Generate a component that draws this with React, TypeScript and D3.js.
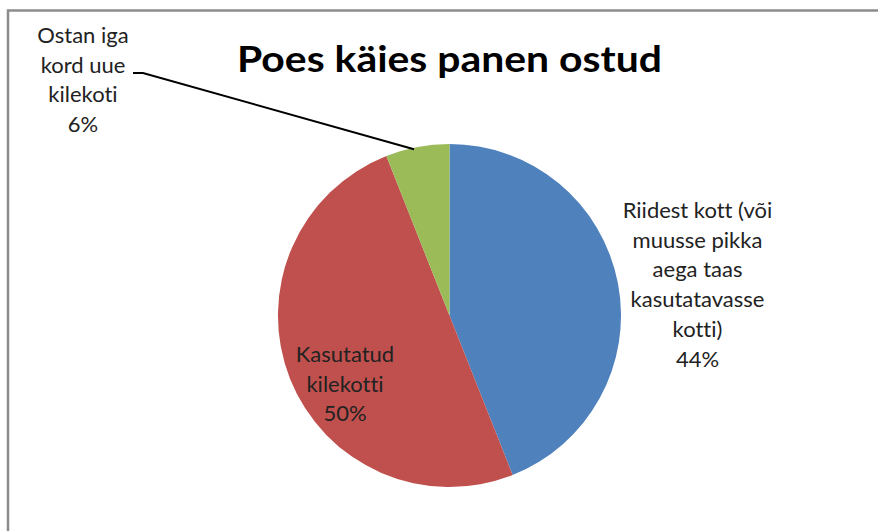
import React from "react";
import * as d3 from "d3";

const categories = [
  "Riidest kott (või muusse pikka aega taas kasutatavasse kotti)",
  "Kasutatud kilekotti",
  "Ostan iga kord uue kilekoti",
];
const values = [44, 50, 6];
const percentLabels = ["44%", "50%", "6%"];
const labelLines = [
  ["Riidest kott (või", "muusse pikka", "aega taas", "kasutatavasse", "kotti)"],
  ["Kasutatud", "kilekotti"],
  ["Ostan iga", "kord uue", "kilekoti"],
];
const colors = ["#4F81BD", "#C0504D", "#9BBB59"];
const title = "Poes käies panen ostud";

const W = 878;
const H = 531;
const cx = 449.5;
const cy = 315.5;
const R = 171.5;
const FONT = "Lato, 'Open Sans', sans-serif";

export default function App() {
  const pie = d3.pie<number>().sort(null).value((d) => d);
  const arcs = pie(values);
  const arcGen = d3.arc<d3.PieArcDatum<number>>().innerRadius(0).outerRadius(R);

  const labelPos = [
    { x: 697.5, y: 218 },
    { x: 345, y: 362 },
    { x: 83, y: 43 },
  ];
  const lineH = 29.7;

  const g = arcs[2];
  const mid = (g.startAngle + g.endAngle) / 2;
  const edge = [cx + R * Math.sin(mid - 0.02), cy - R * Math.cos(mid - 0.02)];
  const leader = d3.line()([
    [133, 73],
    [143, 73],
    [edge[0], edge[1] + 1.5],
  ]);

  return (
    <svg
      width={W}
      height={H}
      style={{ position: "absolute", left: 0, top: 0, display: "block" }}
    >
      <rect x={0} y={0} width={W} height={H} fill="#fff" />
      <rect
        x={8}
        y={10.5}
        width={W + 50}
        height={H + 50}
        fill="#fff"
        stroke="#8c8c8c"
        strokeWidth={2.5}
      />
      <text
        x={237}
        y={72}
        fontFamily={FONT}
        fontWeight="bold"
        fontSize={37}
        textLength={425}
        lengthAdjust="spacingAndGlyphs"
        fill="#000"
      >
        {title}
      </text>
      <g>
        {arcs.map((a, i) => (
          <path
            key={categories[i]}
            d={arcGen(a) || ""}
            transform={`translate(${cx},${cy})`}
            fill={colors[i]}
          />
        ))}
      </g>
      <path d={leader || ""} fill="none" stroke="#000" strokeWidth={2} />
      {labelLines.map((lines, i) => {
        const all = [...lines, percentLabels[i]];
        return (
          <text
            key={i}
            fontFamily={FONT}
            fontSize={22}
            fill="#222"
            textAnchor="middle"
            style={{ fontVariantLigatures: "none" }}
          >
            {all.map((l, j) => (
              <tspan key={j} x={labelPos[i].x} y={labelPos[i].y + j * lineH}>
                {l}
              </tspan>
            ))}
          </text>
        );
      })}
    </svg>
  );
}
